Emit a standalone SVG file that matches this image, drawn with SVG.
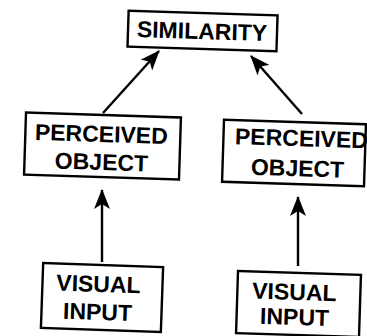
<svg xmlns="http://www.w3.org/2000/svg" width="367" height="336" viewBox="0 0 367 336">
<style>
.box{fill:#fff;stroke:#000;stroke-width:2.4}
.t{font-family:"Liberation Sans",Arial,sans-serif;font-size:23px;font-weight:bold;fill:#000;text-anchor:middle}
.c{stroke:#000;stroke-width:2.4;fill:none}
</style>
<defs>
<marker id="ah" markerWidth="20" markerHeight="16" refX="19" refY="8" orient="auto" markerUnits="userSpaceOnUse">
<path d="M0,0 L20,8 L0,16 L5,8 Z" fill="#000"/>
</marker>
</defs>
<rect width="367" height="336" fill="#fff"/>
<g id="connectors">
<line class="c" x1="103" y1="113" x2="159" y2="51" marker-end="url(#ah)"/>
<line class="c" x1="302" y1="114" x2="251" y2="56" marker-end="url(#ah)"/>
<line class="c" x1="102" y1="262" x2="102" y2="190" marker-end="url(#ah)"/>
<line class="c" x1="298" y1="266" x2="298" y2="197" marker-end="url(#ah)"/>
</g>
<g id="similarity" transform="rotate(1.8 202 32)">
<rect class="box" x="128" y="13" width="149" height="36"/>
<text class="t" x="202" y="39">SIMILARITY</text>
</g>
<g id="perceived-left" transform="rotate(1.8 102 146)">
<rect class="box" x="25" y="115" width="155" height="62"/>
<text class="t" x="101" y="142">PERCEIVED</text>
<text class="t" x="102" y="170">OBJECT</text>
</g>
<g id="perceived-right" transform="rotate(1.8 294 153)">
<rect class="box" x="223" y="122" width="142" height="62"/>
<text class="t" x="301" y="146">PERCEIVED</text>
<text class="t" x="298" y="176">OBJECT</text>
</g>
<g id="visual-left" transform="rotate(2 102 298)">
<rect class="box" x="42" y="265" width="120" height="65"/>
<text class="t" x="98" y="292">VISUAL</text>
<text class="t" x="98" y="320">INPUT</text>
</g>
<g id="visual-right" transform="rotate(1.8 298 304)">
<rect class="box" x="237" y="273" width="123" height="62"/>
<text class="t" x="294" y="300">VISUAL</text>
<text class="t" x="295" y="325">INPUT</text>
</g>
</svg>
